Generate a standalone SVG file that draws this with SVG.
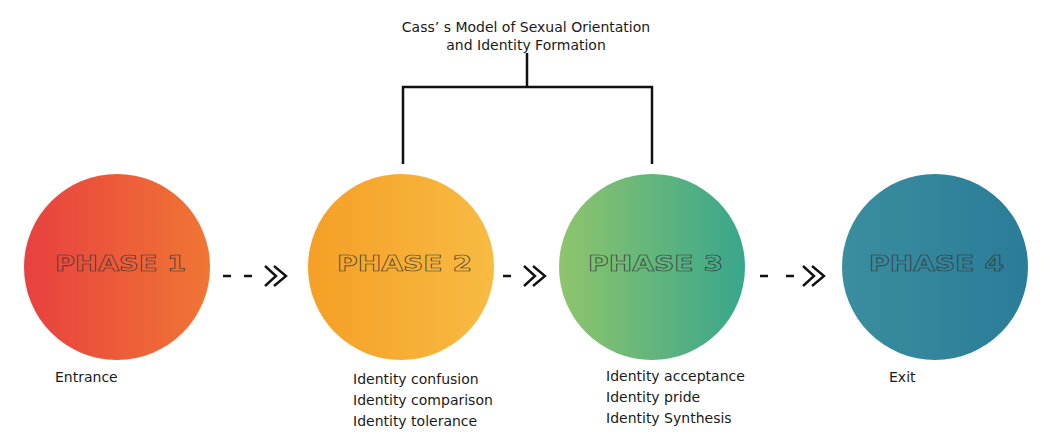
<svg xmlns="http://www.w3.org/2000/svg" width="1049" height="446" viewBox="0 0 1049 446">
<defs>
<linearGradient id="g1" x1="0" y1="0" x2="1" y2="0"><stop offset="0" stop-color="#e8403f"/><stop offset="1" stop-color="#f07634"/></linearGradient>
<linearGradient id="g2" x1="0" y1="0" x2="1" y2="0"><stop offset="0" stop-color="#f59f26"/><stop offset="1" stop-color="#f8bb42"/></linearGradient>
<linearGradient id="g3" x1="0" y1="0" x2="1" y2="0"><stop offset="0" stop-color="#8fc56c"/><stop offset="1" stop-color="#38a68c"/></linearGradient>
<linearGradient id="g4" x1="0" y1="0" x2="1" y2="0"><stop offset="0" stop-color="#3b8e9f"/><stop offset="1" stop-color="#2a7c98"/></linearGradient>
</defs>
<style>
.ph{font-family:"DejaVu Sans",sans-serif;font-weight:bold;font-size:21px;fill:none;stroke:#333;stroke-width:0.6}
.lb{font-family:"DejaVu Sans","Liberation Sans",sans-serif;font-size:14px;fill:#1a1a1a}
.ln{fill:none;stroke:#111;stroke-width:2.5}
.dash{stroke:#111;stroke-width:2.5}
.chev{fill:none;stroke:#111;stroke-width:2.4;stroke-linejoin:miter}
</style>
<rect width="1049" height="446" fill="#ffffff"/>
<g id="title">
<text class="lb" x="526" y="32" text-anchor="middle">Cass’ s Model of Sexual Orientation</text>
<text class="lb" x="526" y="50" text-anchor="middle">and Identity Formation</text>
</g>
<g id="phase1">
<circle cx="117" cy="267" r="93" fill="url(#g1)"/>
<text class="ph" x="55" y="271" textLength="131" lengthAdjust="spacingAndGlyphs">PHASE 1</text>
<text class="lb" x="55" y="382">Entrance</text>
</g>
<g id="phase2">
<circle cx="401" cy="267" r="93" fill="url(#g2)"/>
<text class="ph" x="337" y="271" textLength="135" lengthAdjust="spacingAndGlyphs">PHASE 2</text>
<text class="lb" x="353" y="384">Identity confusion</text>
<text class="lb" x="353" y="405">Identity comparison</text>
<text class="lb" x="353" y="426">Identity tolerance</text>
</g>
<g id="phase3">
<circle cx="652" cy="267" r="93" fill="url(#g3)"/>
<text class="ph" x="588" y="271" textLength="135" lengthAdjust="spacingAndGlyphs">PHASE 3</text>
<text class="lb" x="606" y="381">Identity acceptance</text>
<text class="lb" x="606" y="402">Identity pride</text>
<text class="lb" x="606" y="423">Identity Synthesis</text>
</g>
<g id="phase4">
<circle cx="935" cy="267" r="93" fill="url(#g4)"/>
<text class="ph" x="869" y="271" textLength="135" lengthAdjust="spacingAndGlyphs">PHASE 4</text>
<text class="lb" x="889" y="382">Exit</text>
</g>
<g id="connectors">
<path class="ln" d="M527 53 V87 M403 164 V87 H652 V164"/>
<line class="dash" x1="223" y1="276" x2="231" y2="276"/>
<line class="dash" x1="244" y1="276" x2="252" y2="276"/>
<path class="chev" d="M265 266 L276 276 L265 286 M274 266 L286 276 L274 286"/>
<line class="dash" x1="503" y1="276" x2="511" y2="276"/>
<path class="chev" d="M524 266 L535 276 L524 286 M533 266 L545 276 L533 286"/>
<line class="dash" x1="760" y1="276" x2="768" y2="276"/>
<line class="dash" x1="786" y1="276" x2="794" y2="276"/>
<path class="chev" d="M803 266 L814 276 L803 286 M812 266 L824 276 L812 286"/>
</g>
</svg>
